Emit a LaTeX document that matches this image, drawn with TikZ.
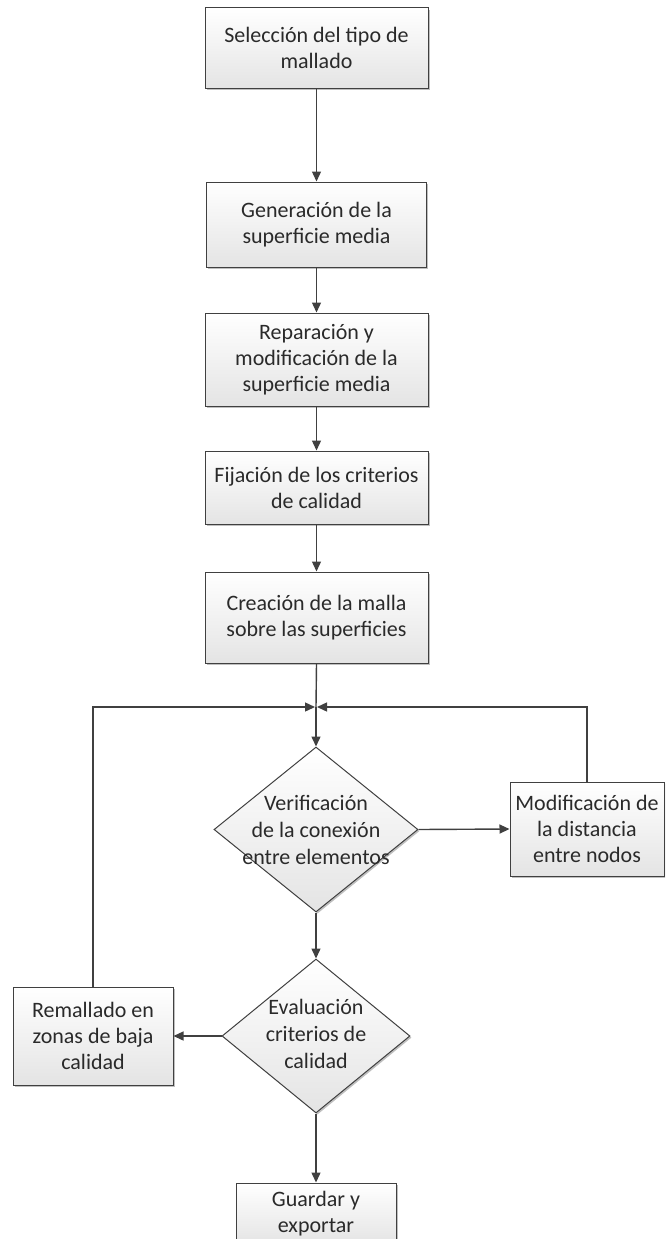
\documentclass[tikz,border=0pt]{standalone}
\usepackage{fontspec}
\setmainfont{Carlito}
\usetikzlibrary{arrows.meta,shapes.geometric,shadows}
\definecolor{edge}{HTML}{404040}
\definecolor{ink}{HTML}{2A2A2A}
\definecolor{shade}{HTML}{E4E4E4}
\tikzset{
  base/.style={draw=edge, line width=1pt, top color=white, bottom color=shade,
    drop shadow={shadow xshift=1.6pt, shadow yshift=-1.6pt, opacity=0.25, fill=black},
    inner sep=0pt},
  procbox/.style={base, rectangle, text=ink, align=center,
    font=\fontsize{22}{26}\selectfont},
  decision/.style={base, diamond},
  dtext/.style={text=ink, align=center, font=\fontsize{22}{27}\selectfont},
  flow/.style={draw=edge, line width=1.4pt, -{Triangle[length=10pt,width=9pt]}},
  plain/.style={draw=edge, line width=1.4pt}
}
\begin{document}
\begin{tikzpicture}[x=1pt,y=-1pt]
  \clip (0,0) rectangle (665,1239);
  \useasboundingbox (0,0) rectangle (665,1239);

  % main sequence of steps
  \node[procbox, minimum width=223pt, minimum height=80pt] (s1) at (316.5,48)
    {Selección del tipo de\\mallado};
  \node[procbox, minimum width=220pt, minimum height=85pt] (s2) at (316.5,224.5)
    {Generación de la\\superficie media};
  \node[procbox, minimum width=223pt, minimum height=93pt] (s3) at (316.5,359.5)
    {Reparación y\\modificación de la\\superficie media};
  \node[procbox, minimum width=223pt, minimum height=73pt] (s4) at (316.5,487.5)
    {Fijación de los criterios\\de calidad};
  \node[procbox, minimum width=223pt, minimum height=91pt] (s5) at (316.5,617.5)
    {Creación de la malla\\sobre las superficies};

  % decisions
  \node[decision, minimum width=204pt, minimum height=165pt] (v) at (316,829.5) {};
  \node[dtext] (vt) at (316,830) {Verificación\\de la conexión\\entre elementos};
  \node[decision, minimum width=188pt, minimum height=154pt] (e) at (316,1036) {};
  \node[dtext] (et) at (316,1034) {Evaluación\\criterios de\\calidad};

  % side steps
  \node[procbox, minimum width=154pt, minimum height=94pt] (m) at (587,829)
    {Modificación de\\la distancia\\entre nodos};
  \node[procbox, minimum width=160pt, minimum height=98pt] (r) at (93,1036)
    {Remallado en\\zonas de baja\\calidad};
  \node[procbox, minimum width=160pt, minimum height=62pt] (g) at (316,1214)
    {Guardar y\\exportar};

  % junction above the first decision
  \coordinate (j) at (316,707);

  % connectors
  \draw[flow] (s1) -- (s2);
  \draw[flow] (s2) -- (s3);
  \draw[flow] (s3) -- (s4);
  \draw[flow] (s4) -- (s5);
  \draw[plain] (s5.south) -- (j);
  \draw[flow] (j) -- (v.north);
  \draw[flow] (r.north) |- ([xshift=-1pt]j);
  \draw[flow] (m.north) |- ([xshift=1pt]j);
  \draw[flow] (v.east) -- (m.west);
  \draw[flow] (v.south) -- (e.north);
  \draw[flow] (e.west) -- (r.east);
  \draw[flow] (e.south) -- (g.north);
\end{tikzpicture}
\end{document}
